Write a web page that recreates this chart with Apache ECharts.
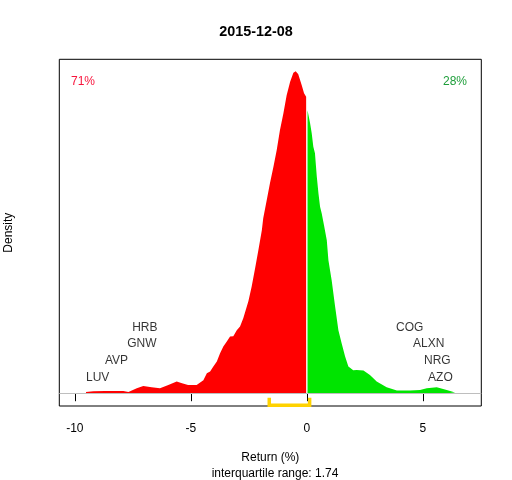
<!DOCTYPE html>
<html>
  <head>
    <meta charset="utf-8">
    <script src="https://cdn.jsdelivr.net/npm/echarts@6/dist/echarts.min.js"></script>
    <style>
      html, body { margin: 0; padding: 0; background: #fff; }
    </style>
  </head>
  <body>
    <div id="chart" style="width:512px;height:480px;"></div>
    <script>
      // density of returns, split at zero
      var redX = [-9.52, -9.20, -8.70, -7.91, -7.69, -7.33, -7.05, -6.69, -6.33, -5.97, -5.61, -5.38, -5.12, -4.75,
        -4.46, -4.31, -4.17, -4.03, -3.88, -3.74, -3.60, -3.45, -3.31, -3.17, -3.02, -2.88, -2.74, -2.52, -2.38,
        -2.23, -2.09, -1.94, -1.88, -1.73, -1.59, -1.44, -1.30, -1.16, -1.01, -0.87, -0.72, -0.58, -0.48, -0.37,
        -0.22, -0.12, -0.03];
      var redY = [0.0013, 0.0020, 0.0022, 0.0023, 0.0013, 0.0050, 0.0073, 0.0060, 0.0050, 0.0083, 0.0116, 0.0100,
        0.0083, 0.0083, 0.0130, 0.0200, 0.0216, 0.0266, 0.0316, 0.0400, 0.0466, 0.0516, 0.0566, 0.0570, 0.0630,
        0.0666, 0.0750, 0.0920, 0.1066, 0.1250, 0.1430, 0.1630, 0.1750, 0.1930, 0.2100, 0.2266, 0.2430, 0.2630,
        0.2800, 0.2980, 0.3116, 0.3206, 0.3220, 0.3190, 0.3080, 0.3000, 0.2966];
      var greenX = [0.03, 0.14, 0.21, 0.28, 0.35, 0.43, 0.50, 0.57, 0.64, 0.74, 0.86, 0.93, 1.07, 1.22, 1.36, 1.50,
        1.65, 1.79, 2.00, 2.15, 2.29, 2.44, 2.72, 3.01, 3.44, 3.88, 4.45, 4.88, 5.17, 5.60, 6.03, 6.39];
      var greenY = [0.2830, 0.2700, 0.2600, 0.2466, 0.2400, 0.2166, 0.2000, 0.1866, 0.1800, 0.1680, 0.1530, 0.1330,
        0.1130, 0.0866, 0.0630, 0.0500, 0.0366, 0.0266, 0.0230, 0.0233, 0.0230, 0.0226, 0.0183, 0.0116, 0.0060,
        0.0026, 0.0026, 0.0033, 0.0050, 0.0060, 0.0033, 0.0006];

      // worst and best stocks of the day
      var loserNames = ['LUV', 'AVP', 'GNW', 'HRB'];
      var loserReturns = [-9.52, -8.70, -7.74, -7.53];
      var winnerNames = ['AZO', 'NRG', 'ALXN', 'COG'];
      var winnerReturns = [6.29, 6.20, 5.93, 5.02];

      var xTicks = [-10, -5, 0, 5];
      var iqrLow = -1.62;
      var iqrHigh = 0.12;
      var iqrText = '1.74';
      var shareDown = '71%';
      var shareUp = '28%';
      var dateText = '2015-12-08';

      var font = "'Liberation Sans', Arial, sans-serif";
      var yMin = -0.0128, yMax = 0.334;

      function pairs(xs, ys) {
        return xs.map(function (x, i) { return [x, ys[i]]; });
      }

      // stack stock names in rows above the baseline
      function labelData(names, xs) {
        return names.map(function (n, i) {
          return { name: n, value: [xs[i], 0.0156 + i * 0.0168] };
        });
      }

      var chart = echarts.init(document.getElementById('chart'), null, { renderer: 'canvas' });

      chart.setOption({
        animation: false,
        backgroundColor: '#fff',
        textStyle: { fontFamily: font },
        title: [
          { text: dateText, left: 'center', top: 20,
            textStyle: { fontFamily: font, fontSize: 14.4, fontWeight: 'bold', color: '#000' } },
          { text: shareDown, left: 66, top: 71,
            textStyle: { fontFamily: font, fontSize: 12, fontWeight: 'normal', color: '#f8143c' } },
          { text: shareUp, right: 40, top: 71,
            textStyle: { fontFamily: font, fontSize: 12, fontWeight: 'normal', color: '#1e9e3a' } },
          { text: 'interquartile range: ' + iqrText, left: 270, textAlign: 'center', top: 463,
            textStyle: { fontFamily: font, fontSize: 12, fontWeight: 'normal', color: '#000' } }
        ],
        grid: {
          left: 59.3, top: 59.3, width: 422, height: 346.7,
          outerBoundsMode: 'none', containLabel: false,
          show: true, borderColor: '#000', borderWidth: 1, backgroundColor: 'transparent'
        },
        xAxis: {
          type: 'value', min: -10.67, max: 7.52,
          name: 'Return (%)', nameLocation: 'middle', nameGap: 46,
          nameTextStyle: { fontFamily: font, fontSize: 12, color: '#000' },
          axisLine: { show: false },
          axisTick: { show: true, length: 8, customValues: xTicks, lineStyle: { color: '#000' } },
          axisLabel: { customValues: xTicks, margin: 17, fontSize: 12, color: '#000', fontFamily: font },
          splitLine: { show: false }
        },
        yAxis: {
          type: 'value', min: yMin, max: yMax,
          name: 'Density', nameLocation: 'middle', nameGap: 45,
          nameTextStyle: { fontFamily: font, fontSize: 12, color: '#000' },
          axisLine: { show: false }, axisTick: { show: false }, axisLabel: { show: false },
          splitLine: { show: false }
        },
        series: [
          {
            type: 'line', data: pairs(redX, redY), showSymbol: false, symbol: 'none',
            lineStyle: { width: 0 }, areaStyle: { color: '#ff0000', opacity: 1 },
            markLine: {
              silent: true, symbol: 'none', label: { show: false },
              lineStyle: { color: '#bebebe', width: 1, type: 'solid' },
              data: [{ yAxis: 0 }]
            }
          },
          {
            type: 'line', data: pairs(greenX, greenY), showSymbol: false, symbol: 'none',
            lineStyle: { width: 0 }, areaStyle: { color: '#00e400', opacity: 1 }
          },
          {
            type: 'line', clip: false, showSymbol: false, symbol: 'none', z: 10,
            data: [[iqrLow, -0.0062], [iqrLow, -0.0121], [iqrHigh, -0.0121], [iqrHigh, -0.0062]],
            lineStyle: { color: '#ffd200', width: 3.5, cap: 'square', join: 'miter' }
          },
          {
            type: 'scatter', symbolSize: 0, data: labelData(loserNames, loserReturns),
            label: { show: true, formatter: '{b}', position: [0, 0], align: 'left', verticalAlign: 'middle',
              fontSize: 12, color: '#000', fontFamily: font }
          },
          {
            type: 'scatter', symbolSize: 0, data: labelData(winnerNames, winnerReturns),
            label: { show: true, formatter: '{b}', position: [0, 0], align: 'right', verticalAlign: 'middle',
              fontSize: 12, color: '#000', fontFamily: font }
          }
        ]
      });
    </script>
  </body>
</html>
